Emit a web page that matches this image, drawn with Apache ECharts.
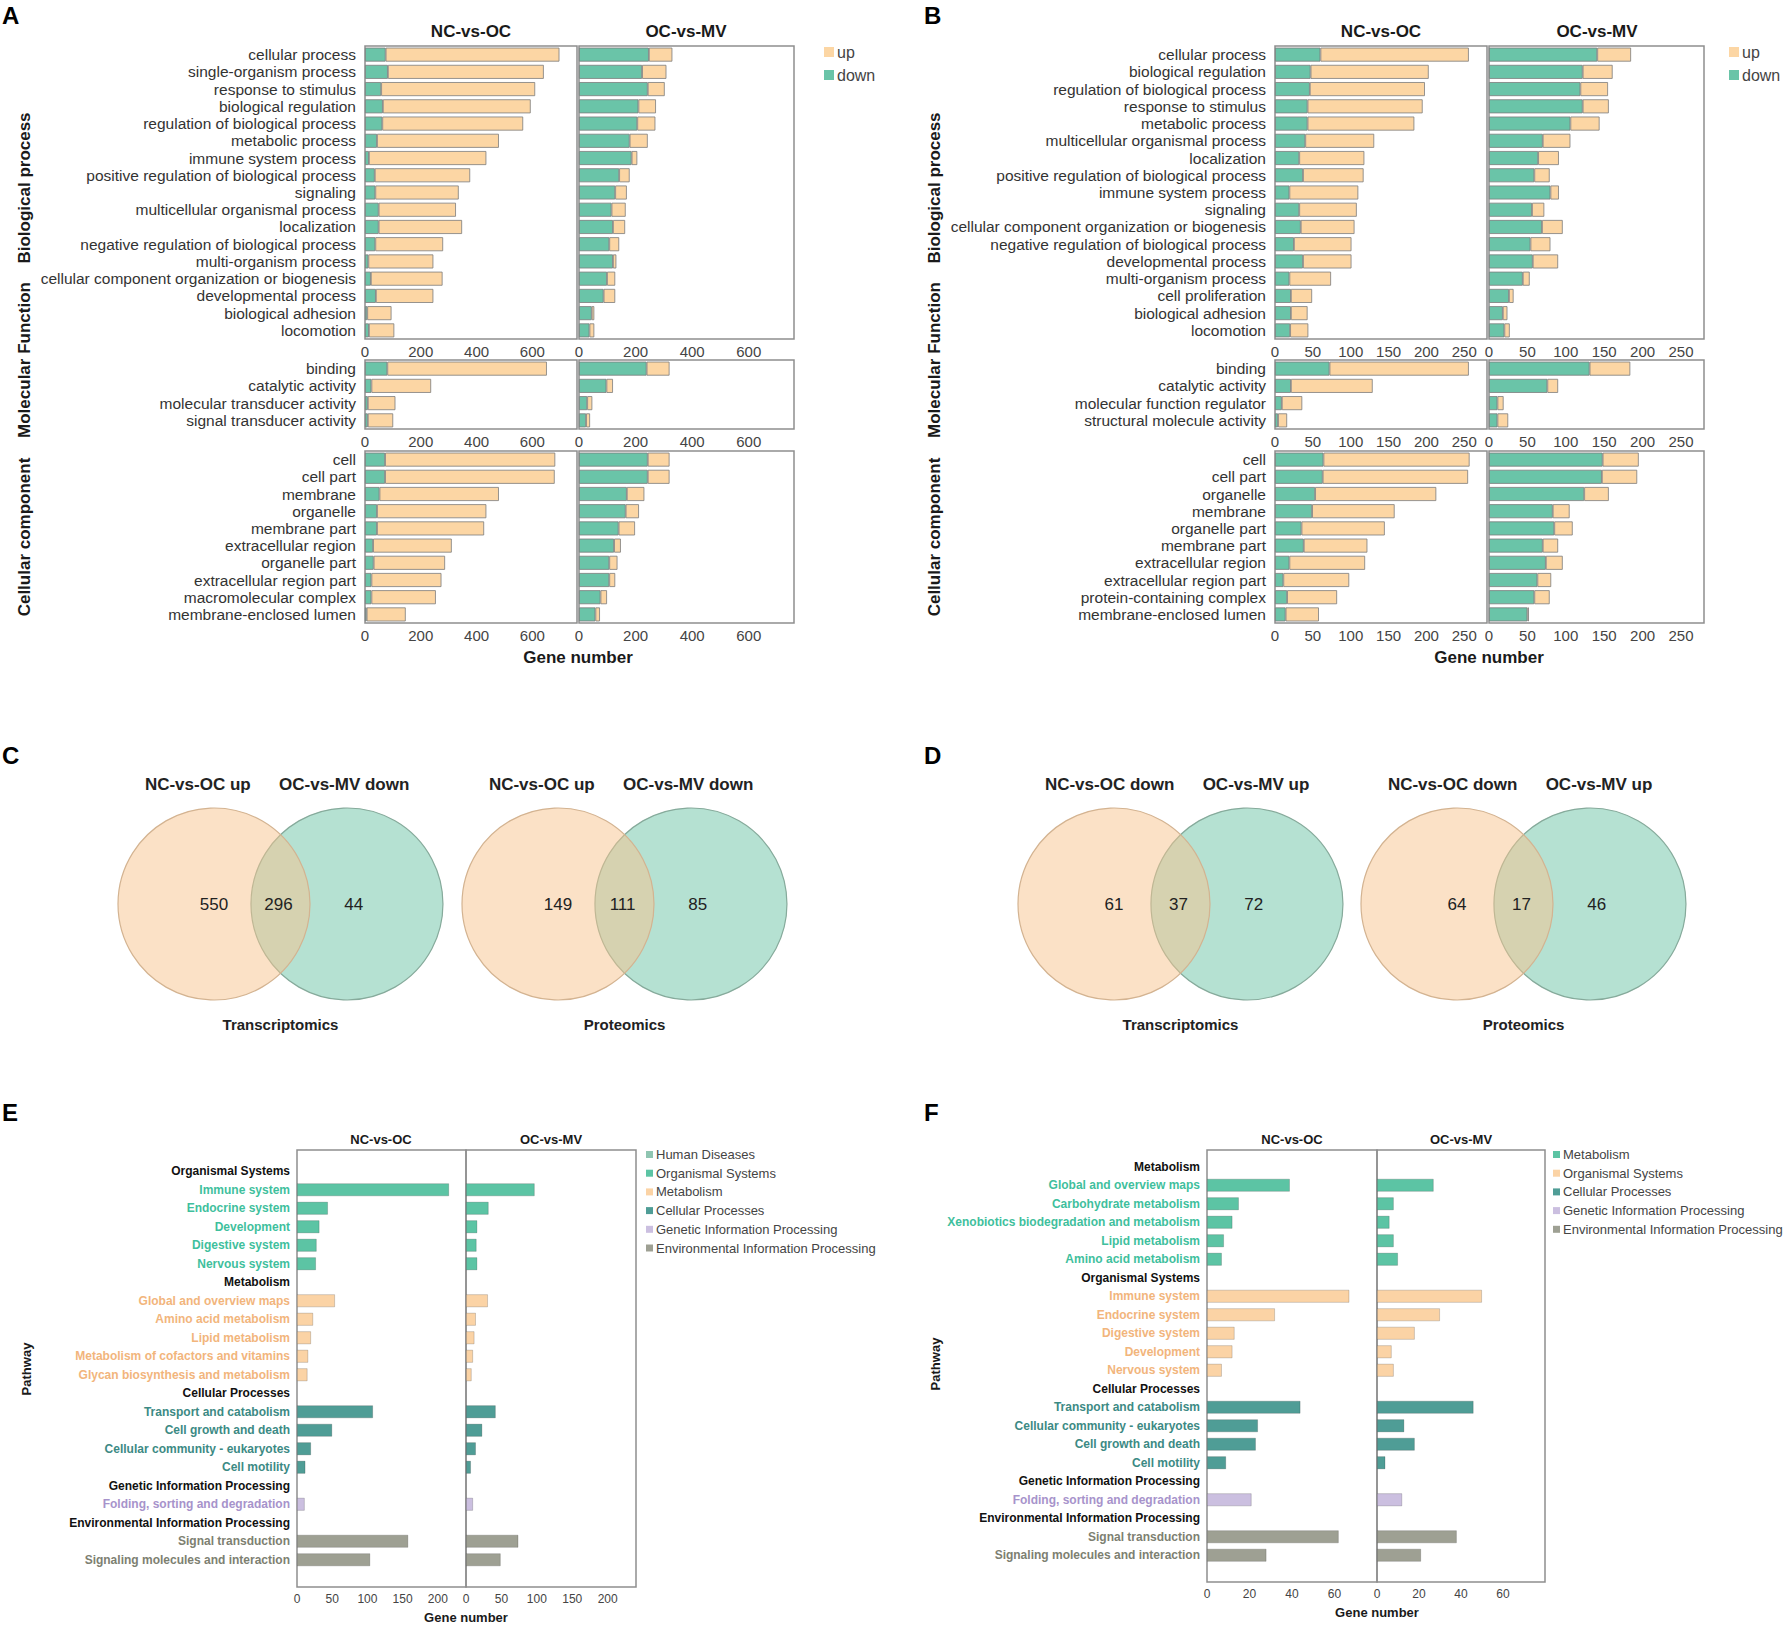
<!DOCTYPE html>
<html>
<head>
<meta charset="utf-8">
<title>GO / KEGG / Venn</title>
<script src="https://cdn.jsdelivr.net/npm/echarts@6/dist/echarts.min.js"></script>
<style>
html, body { margin: 0; padding: 0; background: #fff; }
#main { width: 1786px; height: 1625px; }
</style>
</head>
<body>
<div id="main"></div>
<script>
var FONT = '"Liberation Sans", Arial, Helvetica, sans-serif';

/* ---------- A : GO, transcriptomics ---------- */
var aBpCats = ['cellular process', 'single-organism process', 'response to stimulus', 'biological regulation',
    'regulation of biological process', 'metabolic process', 'immune system process',
    'positive regulation of biological process', 'signaling', 'multicellular organismal process', 'localization',
    'negative regulation of biological process', 'multi-organism process',
    'cellular component organization or biogenesis', 'developmental process', 'biological adhesion', 'locomotion'];
var aBpNcOcDown = [74, 82, 58, 64, 62, 43, 14, 35, 37, 49, 49, 37, 12, 21, 39, 8, 14];
var aBpNcOcUp   = [623, 559, 552, 530, 505, 437, 421, 342, 299, 277, 299, 243, 233, 257, 206, 87, 91];
var aBpOcMvDown = [247, 223, 243, 210, 206, 179, 186, 142, 128, 115, 120, 107, 120, 99, 87, 45, 37];
var aBpOcMvUp   = [83, 86, 60, 62, 64, 64, 20, 37, 41, 50, 43, 35, 12, 29, 41, 9, 17];

var aMfCats = ['binding', 'catalytic activity', 'molecular transducer activity', 'signal transducer activity'];
var aMfNcOcDown = [80, 23, 10, 10];
var aMfNcOcUp   = [572, 214, 99, 91];
var aMfOcMvDown = [239, 97, 29, 25];
var aMfOcMvUp   = [81, 23, 18, 14];

var aCcCats = ['cell', 'cell part', 'membrane', 'organelle', 'membrane part', 'extracellular region', 'organelle part',
    'extracellular region part', 'macromolecular complex', 'membrane-enclosed lumen'];
var aCcNcOcDown = [72, 72, 52, 43, 43, 29, 31, 23, 23, 6];
var aCcNcOcUp   = [610, 608, 428, 392, 384, 282, 256, 251, 231, 140];
var aCcOcMvDown = [243, 243, 169, 165, 140, 124, 107, 107, 76, 58];
var aCcOcMvUp   = [77, 77, 62, 47, 58, 24, 29, 21, 23, 16];
var aAxisMax = 760, aAxisStep = 200;

/* ---------- B : GO, proteomics ---------- */
var bBpCats = ['cellular process', 'biological regulation', 'regulation of biological process', 'response to stimulus',
    'metabolic process', 'multicellular organismal process', 'localization',
    'positive regulation of biological process', 'immune system process', 'signaling',
    'cellular component organization or biogenesis', 'negative regulation of biological process',
    'developmental process', 'multi-organism process', 'cell proliferation', 'biological adhesion', 'locomotion'];
var bBpNcOcDown = [60, 47, 46, 43, 43, 40, 32, 37, 19, 32, 34, 25, 37, 19, 21, 21, 20];
var bBpNcOcUp   = [196, 156, 152, 152, 141, 91, 86, 80, 91, 76, 71, 76, 64, 55, 28, 22, 24];
var bBpOcMvDown = [141, 122, 119, 122, 106, 70, 64, 59, 80, 56, 69, 54, 57, 44, 26, 18, 20];
var bBpOcMvUp   = [44, 39, 36, 34, 38, 36, 27, 20, 11, 16, 27, 26, 33, 9, 6, 6, 7];

var bMfCats = ['binding', 'catalytic activity', 'molecular function regulator', 'structural molecule activity'];
var bMfNcOcDown = [72, 21, 9, 4];
var bMfNcOcUp   = [184, 108, 27, 12];
var bMfOcMvDown = [131, 76, 11, 11];
var bMfOcMvUp   = [53, 14, 8, 14];

var bCcCats = ['cell', 'cell part', 'organelle', 'membrane', 'organelle part', 'membrane part', 'extracellular region',
    'extracellular region part', 'protein-containing complex', 'membrane-enclosed lumen'];
var bCcNcOcDown = [64, 63, 53, 49, 35, 38, 19, 11, 16, 14];
var bCcNcOcUp   = [193, 192, 160, 109, 110, 84, 100, 87, 66, 44];
var bCcOcMvDown = [148, 147, 124, 83, 85, 70, 74, 63, 59, 50];
var bCcOcMvUp   = [47, 46, 32, 22, 24, 20, 22, 18, 20, 2];
var bAxisMax = 280, bAxisStep = 50;

/* ---------- C / D : Venn ---------- */
var vennTitlesC = ['NC-vs-OC up', 'OC-vs-MV down'];
var vennTitlesD = ['NC-vs-OC down', 'OC-vs-MV up'];
var vennCaptions = ['Transcriptomics', 'Proteomics'];
var vennCTrans = [550, 296, 44];
var vennCProt  = [149, 111, 85];
var vennDTrans = [61, 37, 72];
var vennDProt  = [64, 17, 46];

/* ---------- E : KEGG, transcriptomics ---------- */
var eCats = ['Organismal Systems', 'Immune system', 'Endocrine system', 'Development', 'Digestive system',
    'Nervous system', 'Metabolism', 'Global and overview maps', 'Amino acid metabolism', 'Lipid metabolism',
    'Metabolism of cofactors and vitamins', 'Glycan biosynthesis and metabolism', 'Cellular Processes',
    'Transport and catabolism', 'Cell growth and death', 'Cellular community - eukaryotes', 'Cell motility',
    'Genetic Information Processing', 'Folding, sorting and degradation', 'Environmental Information Processing',
    'Signal transduction', 'Signaling molecules and interaction'];
var eGroups = ['H', 'OS', 'OS', 'OS', 'OS', 'OS', 'H', 'ME', 'ME', 'ME', 'ME', 'ME', 'H', 'CP', 'CP', 'CP', 'CP',
    'H', 'GI', 'H', 'EI', 'EI'];
var eNcOc = ['-', 216, 44, 32, 28, 27, '-', 54, 23, 20, 16, 15, '-', 108, 50, 20, 12, '-', 11, '-', 158, 104];
var eOcMv = ['-', 97, 32, 16, 15, 16, '-', 31, 14, 12, 10, 8, '-', 42, 23, 14, 7, '-', 10, '-', 74, 49];
var eLegend = ['HD', 'OS', 'ME', 'CP', 'GI', 'EI'];
var eAxisMax = 240, eAxisStep = 50;

/* ---------- F : KEGG, proteomics ---------- */
var fCats = ['Metabolism', 'Global and overview maps', 'Carbohydrate metabolism',
    'Xenobiotics biodegradation and metabolism', 'Lipid metabolism', 'Amino acid metabolism', 'Organismal Systems',
    'Immune system', 'Endocrine system', 'Digestive system', 'Development', 'Nervous system', 'Cellular Processes',
    'Transport and catabolism', 'Cellular community - eukaryotes', 'Cell growth and death', 'Cell motility',
    'Genetic Information Processing', 'Folding, sorting and degradation', 'Environmental Information Processing',
    'Signal transduction', 'Signaling molecules and interaction'];
var fGroups = ['H', 'ME', 'ME', 'ME', 'ME', 'ME', 'H', 'OS', 'OS', 'OS', 'OS', 'OS', 'H', 'CP', 'CP', 'CP', 'CP',
    'H', 'GI', 'H', 'EI', 'EI'];
var fNcOc = ['-', 39, 15, 12, 8, 7, '-', 67, 32, 13, 12, 7, '-', 44, 24, 23, 9, '-', 21, '-', 62, 28];
var fOcMv = ['-', 27, 8, 6, 8, 10, '-', 50, 30, 18, 7, 8, '-', 46, 13, 18, 4, '-', 12, '-', 38, 21];
var fLegend = ['ME', 'OS', 'CP', 'GI', 'EI'];
var fAxisMax = 80, fAxisStep = 20;

var GROUP_NAMES = {
    HD: 'Human Diseases', OS: 'Organismal Systems', ME: 'Metabolism', CP: 'Cellular Processes',
    GI: 'Genetic Information Processing', EI: 'Environmental Information Processing'
};

/* colours */
var UP_COLOR = '#fcd6a4', DOWN_COLOR = '#6ac4a8', FRAME = '#8e8e8e';
var TEAL = {bar: '#5cc4a4', text: '#3fbf9d'};
var PEACH = {bar: '#fbd3a5', text: '#f2b57c'};
var E_COLORS = {
    HD: {bar: '#8fc5b1', text: '#6fa896'}, OS: TEAL, ME: PEACH,
    CP: {bar: '#4f9d96', text: '#3c8a84'}, GI: {bar: '#cbbfe0', text: '#a793cb'},
    EI: {bar: '#9ea093', text: '#7d8071'}, H: {bar: '#111', text: '#111'}
};
var F_COLORS = {
    ME: TEAL, OS: PEACH, CP: E_COLORS.CP, GI: E_COLORS.GI, EI: E_COLORS.EI, H: E_COLORS.H
};

var option = {
    backgroundColor: '#fff',
    animation: false,
    textStyle: {fontFamily: FONT},
    grid: [], xAxis: [], yAxis: [], series: [], legend: [], graphic: []
};

/**
 * One facet of a GO bar chart: framed grid, stacked down / up bars.
 */
var addGoFacet = function (o, f) {
    var gi = o.grid.length;
    o.grid.push({
        left: f.left, top: f.top, width: f.width, height: f.height,
        show: true, borderColor: FRAME, borderWidth: 1.5, backgroundColor: 'transparent'
    });
    o.xAxis.push({
        gridIndex: gi, type: 'value', min: 0, max: f.max, interval: f.step,
        splitLine: {show: false}, axisLine: {show: false}, axisTick: {show: false},
        axisLabel: {fontFamily: FONT, fontSize: 15, color: '#444', margin: 5, showMaxLabel: false}
    });
    o.yAxis.push({
        gridIndex: gi, type: 'category', inverse: true, data: f.cats,
        axisLine: {show: false}, axisTick: {show: false}, splitLine: {show: false},
        axisLabel: {show: f.labels, interval: 0, fontFamily: FONT, fontSize: 15.5, color: '#333', margin: 9}
    });
    var bar = function (name, data, color) {
        return {
            name: name, type: 'bar', xAxisIndex: gi, yAxisIndex: gi, stack: 'go' + gi,
            data: data, barWidth: 14, silent: true,
            itemStyle: {color: color, borderColor: '#7c7c7c', borderWidth: 0.8}
        };
    };
    o.series.push(bar('down', f.down, DOWN_COLOR));
    o.series.push(bar('up', f.up, UP_COLOR));
};

/**
 * One facet of a KEGG bar chart: a frame grid plus a data grid inside it.
 */
var addKeggFacet = function (o, f) {
    var fi = o.grid.length;
    o.grid.push({
        left: f.left, top: f.frameTop, width: f.width, height: f.frameHeight,
        show: true, borderColor: FRAME, borderWidth: 1.5, backgroundColor: 'transparent'
    });
    o.xAxis.push({gridIndex: fi, type: 'value', show: false});
    o.yAxis.push({gridIndex: fi, type: 'value', show: false});

    var gi = fi + 1;
    o.grid.push({left: f.left, top: f.top, width: f.width, height: f.height});
    o.xAxis.push({
        gridIndex: gi, type: 'value', min: 0, max: f.max, interval: f.step, offset: f.offset,
        splitLine: {show: false}, axisLine: {show: false}, axisTick: {show: false},
        axisLabel: {fontFamily: FONT, fontSize: 12, color: '#444', margin: 6, showMaxLabel: false}
    });
    o.yAxis.push({
        gridIndex: gi, type: 'category', inverse: true,
        data: f.cats.map(function (c, i) {
            return {value: c, textStyle: {color: f.colors[f.groups[i]].text}};
        }),
        axisLine: {show: false}, axisTick: {show: false}, splitLine: {show: false},
        axisLabel: {show: f.labels, interval: 0, fontFamily: FONT, fontSize: 12, fontWeight: 'bold', margin: 7}
    });
    f.legend.forEach(function (key) {
        o.series.push({
            name: f.panel + '|' + GROUP_NAMES[key], type: 'bar', xAxisIndex: gi, yAxisIndex: gi,
            stack: 'kegg' + gi, barWidth: 13, silent: true,
            data: f.values.map(function (v, i) { return f.groups[i] === key ? v : '-'; }),
            itemStyle: {color: f.colors[key].bar, borderColor: 'rgba(0,0,0,0.22)', borderWidth: 0.8}
        });
    });
};

/* Venn geometry: unit = circle radius */
var VENN_R = 96, VENN_D = 1.385, VENN_Y = 904;

/**
 * Two-set Venn drawn on a hidden cartesian grid, one unit = one radius.
 */
var addVenn = function (o, cx, titles, counts, caption) {
    var gi = o.grid.length;
    o.grid.push({
        left: cx - 1.5 * VENN_R, top: VENN_Y - 1.5 * VENN_R,
        width: (VENN_D + 3) * VENN_R, height: 3 * VENN_R
    });
    o.xAxis.push({gridIndex: gi, type: 'value', min: -1.5, max: VENN_D + 1.5, show: false});
    o.yAxis.push({gridIndex: gi, type: 'value', min: -1.5, max: 1.5, show: false});
    // green first, peach over it
    o.series.push({
        type: 'custom', xAxisIndex: gi, yAxisIndex: gi, silent: true,
        data: [[VENN_D, 0, 1], [0, 0, 0]],
        renderItem: function (p, api) {
            var c = api.coord([api.value(0), api.value(1)]);
            var r = api.size([1, 0])[0];
            var left = api.value(2) === 0;
            return {
                type: 'circle', shape: {cx: c[0], cy: c[1], r: r},
                style: {
                    fill: left ? 'rgba(247,196,142,0.5)' : 'rgba(108,196,166,0.5)',
                    stroke: left ? '#d3b391' : '#86aa9b', lineWidth: 1.2
                }
            };
        }
    });
    var texts = [
        {t: String(counts[0]), x: 0, y: 0, font: '17px ' + FONT, align: 'center'},
        {t: String(counts[1]), x: VENN_D / 2 - 0.02, y: 0, font: '17px ' + FONT, align: 'center'},
        {t: String(counts[2]), x: VENN_D + 0.07, y: 0, font: '17px ' + FONT, align: 'center'},
        {t: titles[0], x: -0.72, y: 1.24, font: 'bold 17px ' + FONT, align: 'left'},
        {t: titles[1], x: VENN_D + 0.65, y: 1.24, font: 'bold 17px ' + FONT, align: 'right'},
        {t: caption, x: VENN_D / 2, y: -1.26, font: 'bold 15px ' + FONT, align: 'center'}
    ];
    o.series.push({
        type: 'custom', xAxisIndex: gi, yAxisIndex: gi, silent: true,
        data: texts.map(function (d, i) { return [d.x, d.y, i]; }),
        renderItem: function (p, api) {
            var d = texts[api.value(2)];
            var c = api.coord([api.value(0), api.value(1)]);
            return {
                type: 'text', x: c[0], y: c[1],
                style: {text: d.t, font: d.font, fill: '#222', align: d.align, verticalAlign: 'middle'}
            };
        }
    });
};

var addText = function (o, text, x, y, size, opts) {
    opts = opts || {};
    o.graphic.push({
        type: 'text', x: x, y: y, rotation: opts.rotate ? Math.PI / 2 : 0, silent: true,
        style: {
            text: text, font: (opts.normal ? '' : 'bold ') + size + 'px ' + FONT, fill: opts.color || '#1a1a1a',
            align: opts.align || 'center', verticalAlign: 'middle',
            textAlign: opts.align || 'center', textVerticalAlign: 'middle'
        }
    });
};

/* ---------- build A and B ---------- */
var GO_ROWS = [{top: 46, height: 293}, {top: 360, height: 69}, {top: 451, height: 172}];

var buildGoPanel = function (x0, cats, ncDown, ncUp, ocDown, ocUp, max, step) {
    GO_ROWS.forEach(function (row, r) {
        addGoFacet(option, {left: x0, top: row.top, width: 212, height: row.height, cats: cats[r],
            down: ncDown[r], up: ncUp[r], max: max, step: step, labels: true});
        addGoFacet(option, {left: x0 + 214, top: row.top, width: 215, height: row.height, cats: cats[r],
            down: ocDown[r], up: ocUp[r], max: max, step: step, labels: false});
    });
};

buildGoPanel(365, [aBpCats, aMfCats, aCcCats],
    [aBpNcOcDown, aMfNcOcDown, aCcNcOcDown], [aBpNcOcUp, aMfNcOcUp, aCcNcOcUp],
    [aBpOcMvDown, aMfOcMvDown, aCcOcMvDown], [aBpOcMvUp, aMfOcMvUp, aCcOcMvUp], aAxisMax, aAxisStep);
buildGoPanel(1275, [bBpCats, bMfCats, bCcCats],
    [bBpNcOcDown, bMfNcOcDown, bCcNcOcDown], [bBpNcOcUp, bMfNcOcUp, bCcNcOcUp],
    [bBpOcMvDown, bMfOcMvDown, bCcOcMvDown], [bBpOcMvUp, bMfOcMvUp, bCcOcMvUp], bAxisMax, bAxisStep);

[819, 1724].forEach(function (x) {
    option.legend.push({
        data: ['up', 'down'], orient: 'vertical', left: x, top: 39, itemWidth: 10, itemHeight: 10,
        itemGap: 7, icon: 'rect', itemStyle: {borderWidth: 0}, selectedMode: false,
        textStyle: {fontFamily: FONT, fontSize: 16, color: '#444', padding: [0, 0, 0, -2]}
    });
});

/* ---------- build C and D ---------- */
addVenn(option, 214, vennTitlesC, vennCTrans, vennCaptions[0]);
addVenn(option, 558, vennTitlesC, vennCProt, vennCaptions[1]);
addVenn(option, 1114, vennTitlesD, vennDTrans, vennCaptions[0]);
addVenn(option, 1457, vennTitlesD, vennDProt, vennCaptions[1]);

/* ---------- build E and F ---------- */
var buildKeggPanel = function (p) {
    addKeggFacet(option, {panel: p.panel, left: p.left, width: p.w1, frameTop: 1150, frameHeight: p.frameH,
        top: p.top, height: 407, offset: p.offset, max: p.max, step: p.step, cats: p.cats, groups: p.groups,
        values: p.nc, colors: p.colors, legend: p.legend, labels: true});
    addKeggFacet(option, {panel: p.panel, left: p.left + p.w1, width: p.w2, frameTop: 1150, frameHeight: p.frameH,
        top: p.top, height: 407, offset: p.offset, max: p.max, step: p.step, cats: p.cats, groups: p.groups,
        values: p.oc, colors: p.colors, legend: p.legend, labels: false});
    option.legend.push({
        data: p.legend.map(function (k) { return p.panel + '|' + GROUP_NAMES[k]; }),
        formatter: function (n) { return n.split('|')[1]; },
        orient: 'vertical', left: p.legendLeft, top: 1143, itemWidth: 7, itemHeight: 7, itemGap: 5.7,
        icon: 'rect', itemStyle: {borderWidth: 0}, selectedMode: false,
        textStyle: {fontFamily: FONT, fontSize: 13, color: '#444', padding: [0, 0, 0, -2]}
    });
};

// E legend needs a Human Diseases entry even without bars
buildKeggPanel({panel: 'E', left: 297, w1: 169, w2: 170, frameH: 437, top: 1162, offset: 18,
    max: eAxisMax, step: eAxisStep, cats: eCats, groups: eGroups, nc: eNcOc, oc: eOcMv,
    colors: E_COLORS, legend: eLegend, legendLeft: 641});
buildKeggPanel({panel: 'F', left: 1207, w1: 170, w2: 168, frameH: 432, top: 1157.5, offset: 17.5,
    max: fAxisMax, step: fAxisStep, cats: fCats, groups: fGroups, nc: fNcOc, oc: fOcMv,
    colors: F_COLORS, legend: fLegend, legendLeft: 1548});

/* ---------- texts ---------- */
addText(option, 'A', 2, 15, 24, {align: 'left', color: '#000'});
addText(option, 'B', 924, 15, 24, {align: 'left', color: '#000'});
addText(option, 'C', 2, 755, 24, {align: 'left', color: '#000'});
addText(option, 'D', 924, 755, 24, {align: 'left', color: '#000'});
addText(option, 'E', 2, 1112, 24, {align: 'left', color: '#000'});
addText(option, 'F', 924, 1112, 24, {align: 'left', color: '#000'});

[[0, 471, 686, 578], [910, 1381, 1597, 1489]].forEach(function (p) {
    addText(option, 'NC-vs-OC', p[1], 31, 17);
    addText(option, 'OC-vs-MV', p[2], 31, 17);
    addText(option, 'Gene number', p[3], 657, 17);
    addText(option, 'Biological process', 24 + p[0], 188, 17, {rotate: true});
    addText(option, 'Molecular Function', 24 + p[0], 360, 17, {rotate: true});
    addText(option, 'Cellular component', 24 + p[0], 537, 17, {rotate: true});
});

addText(option, 'NC-vs-OC', 381, 1139, 13);
addText(option, 'OC-vs-MV', 551, 1139, 13);
addText(option, 'Gene number', 466, 1617, 13);
addText(option, 'Pathway', 26, 1369, 13, {rotate: true});
addText(option, 'NC-vs-OC', 1292, 1139, 13);
addText(option, 'OC-vs-MV', 1461, 1139, 13);
addText(option, 'Gene number', 1377, 1612, 13);
addText(option, 'Pathway', 935, 1364, 13, {rotate: true});

var chart = echarts.init(document.getElementById('main'), null, {renderer: 'svg'});
chart.setOption(option);
</script>
</body>
</html>
